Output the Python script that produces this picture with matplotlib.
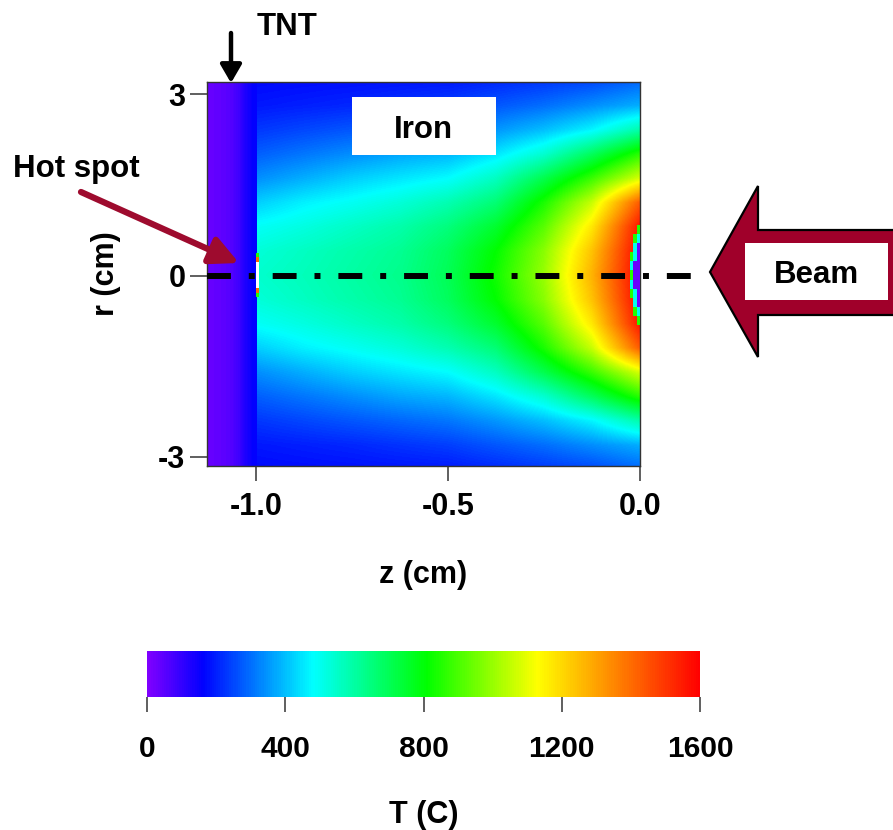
import numpy as np
import matplotlib
matplotlib.use('Agg')
import matplotlib.pyplot as plt
from matplotlib.colors import LinearSegmentedColormap
from matplotlib.patches import Polygon, Rectangle

plt.rcParams['font.family'] = ['Liberation Sans', 'DejaVu Sans']
plt.rcParams['font.weight'] = 'bold'
plt.rcParams['axes.unicode_minus'] = False

# Temperature (C), iron part: rows = r (0 .. 3.2 cm), cols = z (-1.0 .. 0.0 cm)
z_nodes = [-1.0, -0.875, -0.75, -0.625, -0.5, -0.375, -0.25, -0.125, 0.0]
r_nodes = [0.0, 0.4, 0.8, 1.2, 1.6, 2.0, 2.4, 2.8, 3.2]
t_iron = [
    [545, 570, 600, 630, 700, 830, 1000, 1270, 1600],
    [530, 560, 590, 620, 690, 810, 980, 1240, 1590],
    [490, 520, 555, 590, 650, 750, 920, 1170, 1560],
    [420, 465, 495, 530, 580, 660, 840, 1060, 1430],
    [340, 380, 420, 450, 480, 560, 710, 880, 1080],
    [280, 310, 340, 370, 390, 450, 540, 690, 860],
    [230, 250, 270, 290, 310, 350, 400, 470, 590],
    [190, 200, 210, 225, 240, 270, 300, 340, 380],
    [170, 175, 180, 185, 190, 210, 230, 250, 290],
]

# TNT layer (z from -1.128 to -1.0), uniform in r
tnt_z_range = [-1.128, -1.0]
t_tnt = [35, 40, 48, 60, 85, 130, 160]

# hot spot at the TNT/iron interface (values above 1600 show white)
hot_z_range = [-1.0, -0.994]
hot_r_range = [-0.36, 0.36]
t_hot = [850, 1400, 2000, 2000, 2000, 2000, 2000, 2000, 1400, 850]

# beam entry spot on the right face
entry_z_range = [-0.026, 0.0]
entry_r_range = [-0.82, 0.82]
t_entry = [
    [np.nan, np.nan, 850],
    [np.nan, 850, 500],
    [np.nan, 500, 30],
    [850, 500, 30],
    [500, 30, 30],
    [850, 30, 30],
    [500, 30, 30],
    [850, 500, 30],
    [np.nan, 500, 30],
    [np.nan, 850, 500],
    [np.nan, np.nan, 850],
]

axis_line_z = [-1.128, 0.146]
cbar_ticks = [0, 400, 800, 1200, 1600]

cmap = LinearSegmentedColormap.from_list(
    'heat', [(0.0, '#8000ff'), (0.1, '#0000ff'), (0.3, '#00ffff'),
             (0.506, '#00ff00'), (0.707, '#ffff00'), (1.0, '#ff0000')])
cmap.set_over('white')

W, H = 893, 830
def fx(px):
    return px / W
def fy(py):
    return 1 - py / H

fig = plt.figure(figsize=(8.93, 8.30), dpi=100)
ax = fig.add_axes([fx(207), fy(466), 433 / W, 384 / H])

# mirror the upper half to get the full r range
half = np.array(t_iron, dtype=float)
full = np.vstack([half[::-1], half[1:]])
dz = z_nodes[1] - z_nodes[0]
dr = r_nodes[1] - r_nodes[0]
im = ax.imshow(full, cmap=cmap, vmin=0, vmax=1600, origin='lower', aspect='auto',
               interpolation='bilinear', interpolation_stage='data',
               extent=[z_nodes[0] - dz / 2, z_nodes[-1] + dz / 2,
                       -r_nodes[-1] - dr / 2, r_nodes[-1] + dr / 2], zorder=1)

ax.imshow(np.array([t_tnt, t_tnt], dtype=float), cmap=cmap, vmin=0, vmax=1600,
          origin='lower', aspect='auto', interpolation='bilinear', interpolation_stage='data',
          extent=[tnt_z_range[0], tnt_z_range[1], -3.3, 3.3], zorder=2)

ax.imshow(np.array(t_hot, dtype=float)[:, None], cmap=cmap, vmin=0, vmax=1600,
          origin='lower', aspect='auto', interpolation='nearest',
          extent=[hot_z_range[0], hot_z_range[1], hot_r_range[0], hot_r_range[1]], zorder=3)

ax.imshow(np.array(t_entry, dtype=float), cmap=cmap, vmin=0, vmax=1600,
          origin='lower', aspect='auto', interpolation='nearest',
          extent=[entry_z_range[0], entry_z_range[1], entry_r_range[0], entry_r_range[1]], zorder=3)

ax.plot(axis_line_z, [0, 0], color='black', lw=4.3, linestyle=(0, (4, 3, 1, 3)),
        dash_capstyle='butt', clip_on=False, zorder=6)

ax.set_xlim(-1.128, 0.0)
ax.set_ylim(-3.15, 3.2)
ax.set_xticks([-1.0, -0.5, 0.0])
ax.set_xticklabels(['-1.0', '-0.5', '0.0'])
ax.set_yticks([-3, 0, 3])
ax.set_yticklabels(['-3', '0', '3'])
ax.tick_params(axis='x', length=11, width=1.2, color='#444444', pad=8, labelsize=22)
ax.tick_params(axis='y', length=12, width=1.2, color='#444444', pad=3.5, labelsize=22)
for s in ax.spines.values():
    s.set_color('#333333')
    s.set_linewidth(1.0)
ax.set_xlabel('z (cm)', fontsize=22, fontweight='bold', labelpad=27)
ax.set_ylabel('r (cm)', fontsize=22, fontweight='bold', labelpad=27)

# colorbar
cax = fig.add_axes([fx(147), fy(697), 553 / W, 46 / H])
cbar = fig.colorbar(im, cax=cax, orientation='horizontal', ticks=cbar_ticks)
cbar.outline.set_visible(False)
cax.tick_params(length=11, width=1.2, color='#444444', pad=16)
cax.set_xticklabels([str(t) for t in cbar_ticks])
for lbl in cax.get_xticklabels():
    lbl.set_fontsize(21.5)
    lbl.set_fontweight('bold')
cbar.set_label('T (C)', fontsize=22, fontweight='bold', labelpad=27)

# labels and arrows
fig.text(fx(287), fy(35), 'TNT', ha='center', va='baseline', fontsize=22.5, fontweight='bold')
ax.annotate('', xy=(fx(231), fy(83)), xytext=(fx(231), fy(33)),
            xycoords='figure fraction', textcoords='figure fraction', annotation_clip=False,
            arrowprops=dict(arrowstyle='-|>,head_length=0.55,head_width=0.32',
                            mutation_scale=20, lw=3.2, color='black',
                            shrinkA=0, shrinkB=0))

fig.text(fx(76), fy(177), 'Hot spot', ha='center', va='baseline', fontsize=22.5, fontweight='bold')
ax.annotate('', xy=(fx(239), fy(263)), xytext=(fx(81), fy(192)),
            xycoords='figure fraction', textcoords='figure fraction', annotation_clip=False,
            arrowprops=dict(arrowstyle='-|>,head_length=0.85,head_width=0.42',
                            mutation_scale=20, lw=4.5, color='#9e0b2e',
                            shrinkA=0, shrinkB=0))

fig.add_artist(Rectangle((fx(352), fy(155)), 144 / W, 58 / H, transform=fig.transFigure,
                         facecolor='white', edgecolor='none', zorder=7))
fig.text(fx(423), fy(138), 'Iron', ha='center', va='baseline', fontsize=22.5,
         fontweight='bold', zorder=8)

beam_pts = [(710, 272), (758, 186), (758, 230), (900, 230), (900, 315), (758, 315), (758, 357)]
fig.add_artist(Polygon([(fx(x), fy(y)) for x, y in beam_pts], closed=True,
                       transform=fig.transFigure, facecolor='#a0002a',
                       edgecolor='black', lw=1.6, zorder=7))
fig.add_artist(Rectangle((fx(745), fy(300)), 143 / W, 57 / H, transform=fig.transFigure,
                         facecolor='white', edgecolor='none', zorder=8))
fig.text(fx(817), fy(283), 'Beam', ha='center', va='baseline', fontsize=22.5,
         fontweight='bold', zorder=9)

fig.savefig('out.png', dpi=100)
